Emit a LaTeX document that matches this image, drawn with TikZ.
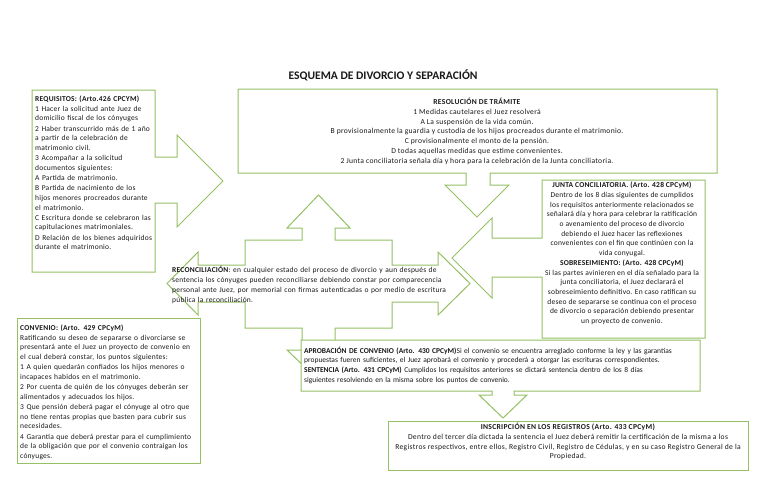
\documentclass[tikz,border=0pt]{standalone}
\usepackage{fontspec}
\setmainfont{Carlito}
\definecolor{grn}{RGB}{150,192,100}
\tikzset{
  shp/.style={draw=grn, line width=1pt, line join=miter},
  txt/.style={inner sep=0pt, text=black!90},
  ftA/.style={font=\fontsize{7.6}{9.8}\selectfont\addfontfeatures{LetterSpace=4}},
  ftB/.style={font=\fontsize{7.5}{9.7}\selectfont\addfontfeatures{LetterSpace=3}},
  ftR/.style={font=\fontsize{7.5}{9.55}\selectfont\addfontfeatures{LetterSpace=3}},
  ftC/.style={font=\fontsize{7.5}{9.8}\selectfont},
}
\newcommand\jl[1]{\par\noindent\hbox to \linewidth{#1}\par}
\newcommand\rl[1]{\par\noindent\hbox{#1}\par}
\newcommand\gap{\vspace{0.8pt}}
\begin{document}
\begin{tikzpicture}[x=1pt,y=-1pt]
\useasboundingbox (0,0) rectangle (768,503);
\fill[white] (0,0) rectangle (768,503);

% title
\node[font=\fontsize{11.6}{13}\selectfont\bfseries, text=black!90, inner sep=0pt] (title) at (383,75) {ESQUEMA DE DIVORCIO Y SEPARACIÓN};

% quad arrow callout (reconciliacion)
\draw[shp] (245,240) -- (302,240) -- (302,228) -- (287,228) -- (318.5,195) -- (350,228) -- (335,228) -- (335,240)
  -- (392,240) -- (392,265) -- (438,265) -- (438,252) -- (470,283.5) -- (438,315) -- (438,302) -- (392,302)
  -- (392,328) -- (335,328) -- (335,350) -- (350,350) -- (318.5,380) -- (287,350) -- (302,350) -- (302,328)
  -- (245,328) -- (245,302) -- (198,302) -- (198,315) -- (167,283.5) -- (198,252) -- (198,265) -- (245,265) -- cycle;

% junta (left arrow callout)
\draw[shp] (542,180) -- (705,180) -- (705,338) -- (542,338) -- (542,277) -- (492,277) -- (492,298) -- (452,258)
  -- (492,218) -- (492,238) -- (542,238) -- cycle;

% requisitos (right arrow callout)
\draw[shp, fill=white] (32,90) -- (155,90) -- (155,157) -- (177,157) -- (177,135) -- (223,181) -- (177,227)
  -- (177,203) -- (155,203) -- (155,272) -- (32,272) -- cycle;

% resolucion (down arrow callout)
\draw[shp, fill=white] (238,89) -- (717,89) -- (717,173) -- (490,173) -- (490,185) -- (509,185) -- (477,217)
  -- (445,185) -- (466,185) -- (466,173) -- (238,173) -- cycle;

% convenio
\draw[shp, fill=white] (17,318) rectangle (200,463);

% aprobacion (down arrow callout)
\draw[shp, fill=white] (301,340) -- (700,340) -- (700,391) -- (514,391) -- (514,395) -- (527,395) -- (503,418)
  -- (479,395) -- (492,395) -- (492,391) -- (301,391) -- cycle;

% inscripcion
\draw[shp, fill=white] (388,421) rectangle (748,470);

% texts
\node[txt, ftR, anchor=north west, text width=117pt] (reqt) at (35,92) {%
\rl{\textbf{REQUISITOS: (Arto.426 CPCYM)}}
\jl{1 Hacer la solicitud ante Juez de}
\rl{domicilio fiscal de los cónyuges}\gap
\jl{2 Haber transcurrido más de 1 año}
\jl{a partir de la celebración de}
\rl{matrimonio civil.}\gap
\jl{3 Acompañar a la solicitud}
\rl{documentos siguientes:}\gap
\rl{A Partida de matrimonio.}\gap
\jl{B Partida de nacimiento de los}
\jl{hijos menores procreados durante}
\rl{el matrimonio.}\gap
\jl{C Escritura donde se celebraron las}
\rl{capitulaciones matrimoniales.}\gap
\jl{D Relación de los bienes adquiridos}
\rl{durante el matrimonio.}};

\node[txt, ftA, anchor=north, align=center] (rest) at (477,98) {%
\textbf{RESOLUCIÓN DE TRÁMITE}\\
1 Medidas cautelares el Juez resolverá\\
A La suspensión de la vida común.\\
B provisionalmente la guardia y custodia de los hijos procreados durante el matrimonio.\\
C provisionalmente el monto de la pensión.\\
D todas aquellas medidas que estime convenientes.\\
2 Junta conciliatoria señala día y hora para la celebración de la Junta conciliatoria.};

\node[txt, ftB, anchor=north, align=center] (junt) at (622,182) {%
\textbf{JUNTA CONCILIATORIA. (Arto. 428 CPCyM)}\\
Dentro de los 8 días siguientes de cumplidos\\
los requisitos anteriormente relacionados se\\
señalará día y hora para celebrar la ratificación\\
o avenamiento del proceso de divorcio\\
debiendo el Juez hacer las reflexiones\\
convenientes con el fin que continúen con la\\
vida conyugal.\\
\textbf{SOBRESEIMIENTO: (Arto. 428 CPCyM)}\\
Si las partes avinieren en el día señalado para la\\
junta conciliatoria, el Juez declarará el\\
sobreseimiento definitivo. En caso ratifican su\\
deseo de separarse se continua con el proceso\\
de divorcio o separación debiendo presentar\\
un proyecto de convenio.};

\node[txt, ftB, anchor=north west, text width=291pt] (rect) at (172,263) {%
\jl{\textbf{RECONCILIACIÓN}: en cualquier estado del proceso de divorcio y aun después de}
\jl{sentencia los cónyuges pueden reconciliarse debiendo constar por comparecencia}
\jl{personal ante Juez, por memorial con firmas autenticadas o por medio de escritura}
\rl{pública la reconciliación.}};

\node[txt, ftR, anchor=north west, text width=178pt] (conv) at (20,321) {%
\rl{\textbf{CONVENIO: (Arto. 429 CPCyM)}}
\jl{Ratificando su deseo de separarse o divorciarse se}
\jl{presentará ante el Juez un proyecto de convenio en}
\rl{el cual deberá constar, los puntos siguientes:}\gap
\jl{1 A quien quedarán confiados los hijos menores o}
\rl{incapaces habidos en el matrimonio.}\gap
\jl{2 Por cuenta de quién de los cónyuges deberán ser}
\rl{alimentados y adecuados los hijos.}\gap
\jl{3 Que pensión deberá pagar el cónyuge al otro que}
\jl{no tiene rentas propias que basten para cubrir sus}
\rl{necesidades.}\gap
\jl{4 Garantía que deberá prestar para el cumplimiento}
\jl{de la obligación que por el convenio contraigan los}
\rl{cónyuges.}};

\node[txt, ftC, anchor=north west, text width=392pt] (aprob) at (304,343) {%
\jl{\textbf{APROBACIÓN DE CONVENIO (Arto. 430 CPCyM)}Si el convenio se encuentra arreglado conforme la ley y las garantías}
\rl{propuestas fueren suficientes, el Juez aprobará el convenio y procederá a otorgar las escrituras correspondientes.}
\jl{\textbf{SENTENCIA (Arto. 431 CPCyM)} Cumplidos los requisitos anteriores se dictará sentencia dentro de los 8 días}
\rl{siguientes resolviendo en la misma sobre los puntos de convenio.}};

\node[txt, ftA, anchor=north, align=center] (insc) at (568,423) {%
\textbf{INSCRIPCIÓN EN LOS REGISTROS (Arto. 433 CPCyM)}\\
Dentro del tercer día dictada la sentencia el Juez deberá remitir la certificación de la misma a los\\
Registros respectivos, entre ellos, Registro Civil, Registro de Cédulas, y en su caso Registro General de la\\
Propiedad.};
\end{tikzpicture}
\end{document}
